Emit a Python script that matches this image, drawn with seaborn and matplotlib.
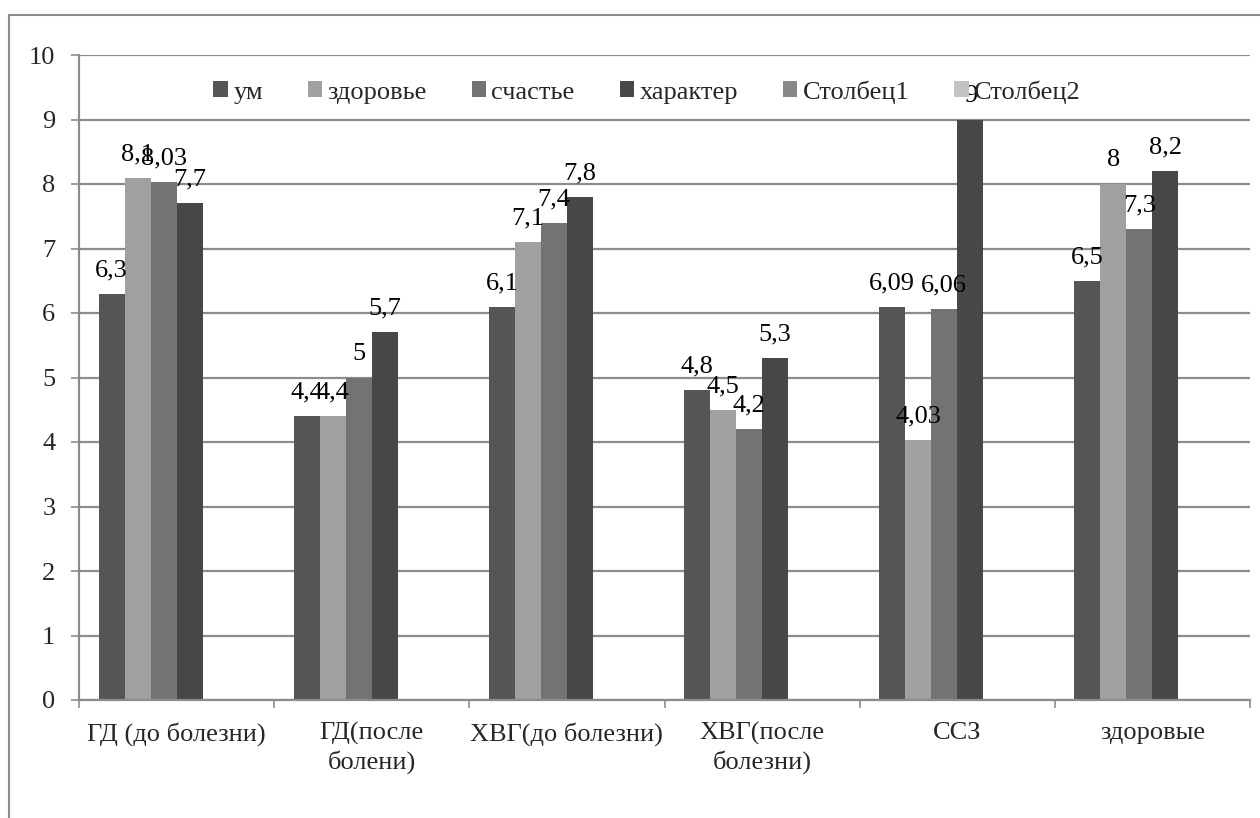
import numpy as np
import pandas as pd
import matplotlib
matplotlib.use("Agg")
import matplotlib.pyplot as plt
from matplotlib.patches import Patch
from matplotlib.lines import Line2D
import seaborn as sns

categories = ["ГД (до болезни)", "ГД(после\nболени)", "ХВГ(до болезни)",
              "ХВГ(после\nболезни)", "ССЗ", "здоровые"]
series = ["ум", "здоровье", "счастье", "характер", "Столбец1", "Столбец2"]
um = [6.3, 4.4, 6.1, 4.8, 6.09, 6.5]
zdorovie = [8.1, 4.4, 7.1, 4.5, 4.03, 8.0]
schastie = [8.03, 5.0, 7.4, 4.2, 6.06, 7.3]
harakter = [7.7, 5.7, 7.8, 5.3, 9.0, 8.2]
stolbec1 = [np.nan] * 6
stolbec2 = [np.nan] * 6
colors = ["#555555", "#a0a0a0", "#737373", "#474747", "#888888", "#c3c3c3"]
yticks = list(range(0, 11))

values = [um, zdorovie, schastie, harakter, stolbec1, stolbec2]
rows = []
for s, vals in zip(series, values):
    for c, v in zip(categories, vals):
        rows.append({"cat": c, "series": s, "value": v})
df = pd.DataFrame(rows)

sns.set_theme(style="white")
plt.rcParams["font.serif"] = ["Liberation Serif", "DejaVu Serif"]
plt.rcParams["font.family"] = "serif"
FS = 19

fig = plt.figure(figsize=(12.6, 8.18), dpi=100)
ax = fig.add_axes([79 / 1260, 1 - 700 / 818, (1250 - 79) / 1260, (700 - 55) / 818])

sns.barplot(data=df, x="cat", y="value", hue="series", order=categories,
            hue_order=series, palette=colors, saturation=1, width=0.8,
            errorbar=None, legend=False, linewidth=0, ax=ax)

def fmt(v):
    return f"{v:g}".replace(".", ",")

for cont in ax.containers:
    labels = [fmt(h) if np.isfinite(h) else "" for h in cont.datavalues]
    ax.bar_label(cont, labels=labels, padding=9, fontsize=FS, color="black")

ax.set_ylim(0, 10)
ax.set_xlim(-0.5, len(categories) - 0.5)
ax.set_yticks(yticks)
ax.set_yticklabels([str(t) for t in yticks], fontsize=FS)
ax.yaxis.grid(True, color="#8c8c8c", linewidth=1.6)
ax.set_axisbelow(True)
ax.set_xlabel("")
ax.set_ylabel("")
for side in ["top", "right"]:
    ax.spines[side].set_visible(False)
for side in ["left", "bottom"]:
    ax.spines[side].set_color("#8c8c8c")
    ax.spines[side].set_linewidth(1.6)

ax.tick_params(axis="y", which="major", direction="out", length=6, width=1.2,
               color="#8c8c8c", pad=11, left=True, labelsize=FS)
ax.set_xticks(range(len(categories)))
ax.set_xticklabels(categories, fontsize=FS, linespacing=1.25)
ax.tick_params(axis="x", which="major", length=0, pad=16)
ax.set_xticks(np.arange(-0.5, len(categories), 1.0), minor=True)
ax.tick_params(axis="x", which="minor", direction="out", length=6, width=1.2,
               color="#8c8c8c", bottom=True)

handles = [Patch(facecolor=c, edgecolor="none") for c in colors]
fig.legend(handles, series, loc="center", bbox_to_anchor=(647 / 1260, 1 - 92 / 818),
           ncol=6, frameon=False, fontsize=FS, handlelength=0.55, handleheight=0.55,
           handletextpad=0.2, columnspacing=1.7)

# outer chart-area frame
fig.add_artist(Line2D([9 / 1260, 9 / 1260], [0, 1 - 15 / 818], transform=fig.transFigure,
                      color="#8c8c8c", linewidth=1.5))
fig.add_artist(Line2D([9 / 1260, 1], [1 - 15 / 818, 1 - 15 / 818], transform=fig.transFigure,
                      color="#8c8c8c", linewidth=1.5))

fig.savefig("out.png", dpi=100)
